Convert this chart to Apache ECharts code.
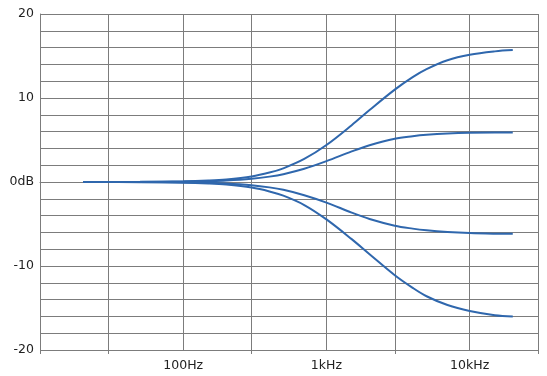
<!DOCTYPE html>
<html>
<head>
<meta charset="utf-8">
<script src="https://cdn.jsdelivr.net/npm/echarts@6/dist/echarts.min.js"></script>
<style>
html,body{margin:0;padding:0;background:#fff;}
#c{width:547px;height:376px;}
</style>
</head>
<body>
<div id="c"></div>
<script>
// Frequencies (Hz) at which the curves were read
const freqs = [20, 50, 100, 150, 200, 300, 400, 500, 700, 1000, 1500, 2000, 3000, 4000, 5000, 7000, 10000, 15000, 20000];
// Gain curves (dB)
const boost16 = [0.0, 0.02, 0.08, 0.18, 0.31, 0.66, 1.12, 1.63, 2.74, 4.40, 6.76, 8.57, 11.0, 12.49, 13.44, 14.5, 15.15, 15.55, 15.7];
const boost6  = [0.0, 0.01, 0.04, 0.10, 0.17, 0.38, 0.64, 0.93, 1.57, 2.48, 3.64, 4.38, 5.15, 5.45, 5.62, 5.78, 5.87, 5.9, 5.9];
const cut6    = [0.0, -0.01, -0.04, -0.10, -0.17, -0.38, -0.64, -0.93, -1.57, -2.45, -3.64, -4.4, -5.2, -5.55, -5.75, -5.95, -6.08, -6.15, -6.17];
const cut16   = [0.0, -0.02, -0.08, -0.18, -0.31, -0.66, -1.12, -1.63, -2.74, -4.45, -6.8, -8.6, -11.1, -12.6, -13.6, -14.65, -15.35, -15.85, -16.0];
// Axis tick labels
const xTickLabels = {100: '100Hz', 1000: '1kHz', 10000: '10kHz'};
const yTickLabels = {20: '20', 10: '10', 0: '0dB', '-10': '-10', '-20': '-20'};
const xRange = [10, 30000];
const yRange = [-20, 20];

const lineColor = '#2f67ad';
const gridColor = '#7c7c7c';
const font = 'DejaVu Sans';

function pairs(vals) { return freqs.map((f, i) => [f, vals[i]]); }

const chart = echarts.init(document.getElementById('c'), null, {renderer: 'canvas'});
const mkSeries = (vals) => ({
  type: 'line', data: pairs(vals), smooth: 0.35, showSymbol: false, symbol: 'none',
  lineStyle: {color: lineColor, width: 2}, itemStyle: {color: lineColor},
  xAxisIndex: 0, yAxisIndex: 0, silent: true, animation: false
});

chart.setOption({
  animation: false,
  backgroundColor: '#fff',
  grid: {left: 40, right: 9, top: 14, bottom: 26, containLabel: false},
  xAxis: [{
    type: 'log', logBase: 10, min: xRange[0], max: xRange[1], position: 'bottom',
    axisLine: {show: true, lineStyle: {color: gridColor, width: 1}},
    axisTick: {show: true, length: 4, lineStyle: {color: gridColor}},
    splitLine: {show: true, lineStyle: {color: gridColor, width: 1}},
    axisLabel: {
      show: true, margin: 9, color: '#222', fontFamily: font, fontSize: 12.5,
      showMinLabel: true, showMaxLabel: true,
      formatter: (v) => xTickLabels[Math.round(v)] || ''
    }
  }, {
    // half-decade grid lines (30, 300, 3k, 30k)
    type: 'log', logBase: 10, min: xRange[0] / 3, max: xRange[1] / 3, position: 'bottom',
    axisLine: {show: false},
    axisTick: {show: true, length: 4, lineStyle: {color: gridColor}},
    splitLine: {show: true, lineStyle: {color: gridColor, width: 1}},
    axisLabel: {show: false}
  }],
  yAxis: {
    type: 'value', min: yRange[0], max: yRange[1], interval: 2,
    axisLine: {show: true, lineStyle: {color: gridColor}},
    axisTick: {show: false},
    splitLine: {show: true, lineStyle: {color: gridColor, width: 1}},
    axisLabel: {
      interval: 0, margin: 6, color: '#222', fontFamily: font, fontSize: 12.5,
      formatter: (v) => (yTickLabels[String(Math.round(v))] !== undefined && Math.round(v) % 10 === 0) ? yTickLabels[String(Math.round(v))] : ''
    }
  },
  series: [mkSeries(boost16), mkSeries(boost6), mkSeries(cut6), mkSeries(cut16)]
});
</script>
</body>
</html>
